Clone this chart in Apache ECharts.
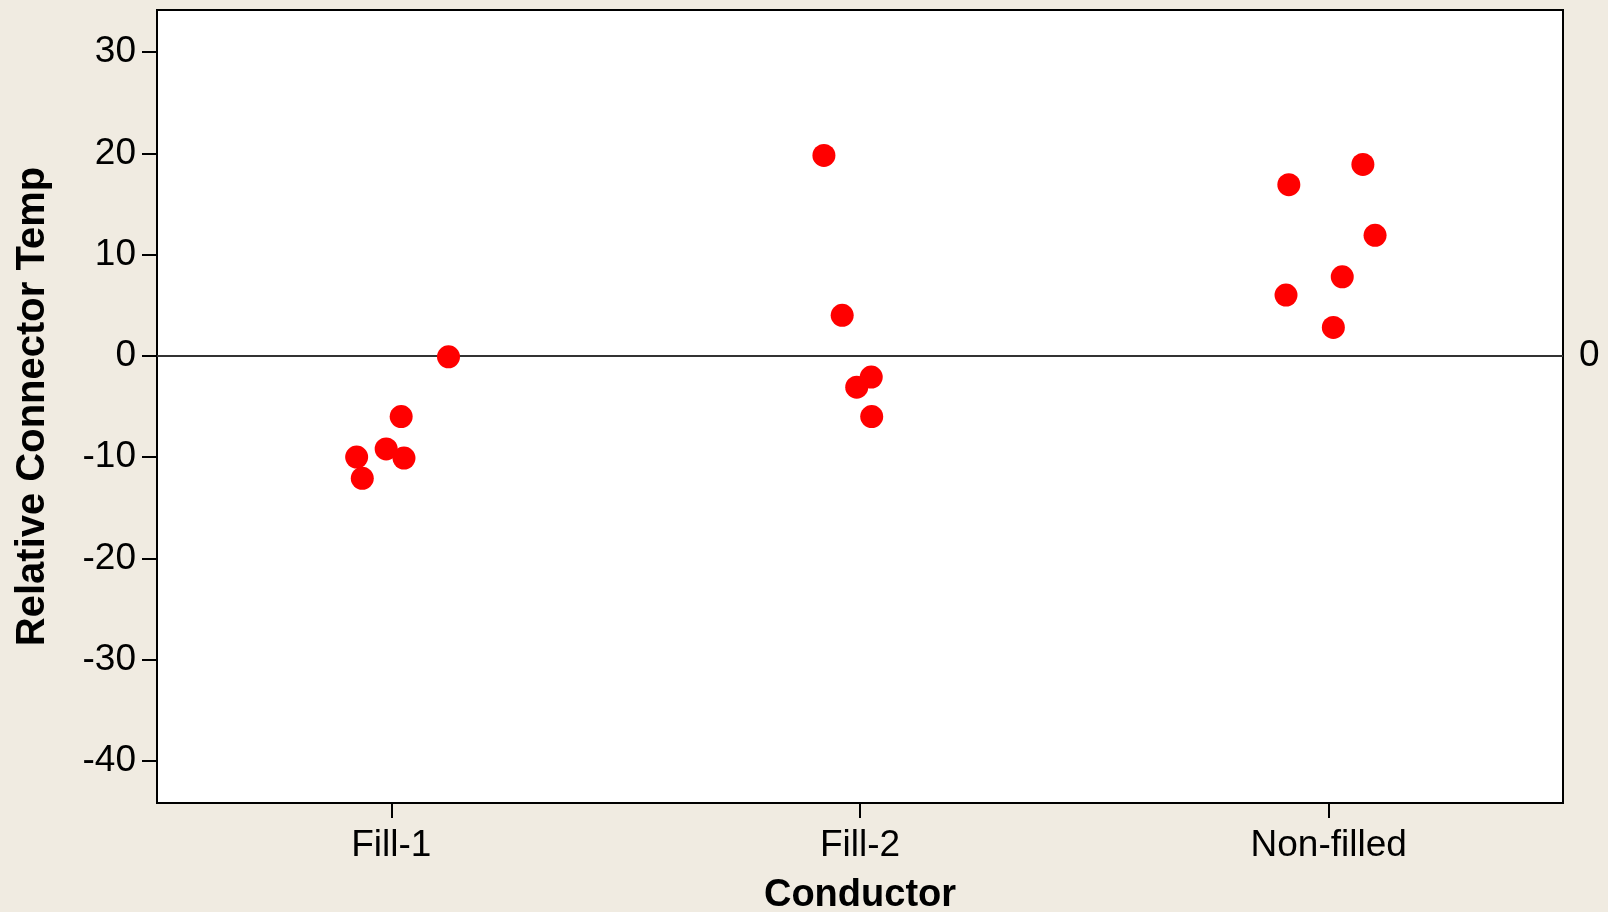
<!DOCTYPE html>
<html>
<head>
<meta charset="utf-8">
<script src="https://cdn.jsdelivr.net/npm/echarts@6/dist/echarts.min.js"></script>
<style>
html,body{margin:0;padding:0;background:#F0EBE1;}
#chart{width:1608px;height:912px;}
</style>
</head>
<body>
<div id="chart"></div>
<script>
// Categories and tick labels
const categories = ['Fill-1', 'Fill-2', 'Non-filled'];
const yTicks = [-40, -30, -20, -10, 0, 10, 20, 30];

// Jittered x positions (category index 1..3 plus jitter) and values
const fill1X = [1.122, 1.021, 0.989, 0.926, 1.027, 0.938];
const fill1Y = [-0.1, -6.0, -9.2, -10.0, -10.1, -12.1];
const fill2X = [1.923, 1.962, 2.024, 1.993, 2.025];
const fill2Y = [19.8, 4.0, -2.1, -3.1, -6.0];
const nonFilledX = [3.073, 2.915, 3.099, 3.029, 2.909, 3.010];
const nonFilledY = [18.9, 16.9, 11.9, 7.8, 6.0, 2.8];

const refValue = 0;

function pairs(xs, ys) { return xs.map((x, i) => [x, ys[i]]); }
const points = [].concat(pairs(fill1X, fill1Y), pairs(fill2X, fill2Y), pairs(nonFilledX, nonFilledY));

const FONT = 'Liberation Sans';
const chart = echarts.init(document.getElementById('chart'));
chart.setOption({
  backgroundColor: '#F0EBE1',
  animation: false,
  grid: {
    left: 157, right: 45, top: 10, bottom: 109,
    containLabel: false, outerBoundsMode: 'none',
    show: true, backgroundColor: '#ffffff', borderColor: '#000000', borderWidth: 2
  },
  xAxis: {
    type: 'value', min: 0.5, max: 3.5,
    name: 'Conductor', nameLocation: 'middle', nameGap: 74,
    nameTextStyle: { fontFamily: FONT, fontWeight: 'bold', fontSize: 38, color: '#000' },
    axisLine: { show: true, onZero: false, lineStyle: { color: '#000', width: 2 } },
    axisTick: { show: true, length: 15, lineStyle: { color: '#000', width: 2 }, customValues: [1, 2, 3] },
    axisLabel: {
      customValues: [1, 2, 3], margin: 24,
      fontFamily: FONT, fontSize: 37, color: '#000',
      formatter: v => categories[Math.round(v) - 1]
    },
    splitLine: { show: false }
  },
  yAxis: {
    type: 'value', min: -44.17, max: 34.16,
    name: 'Relative Connector Temp', nameLocation: 'middle', nameGap: 104,
    nameTextStyle: { fontFamily: FONT, fontWeight: 'bold', fontSize: 40, color: '#000' },
    axisLine: { show: true, onZero: false, lineStyle: { color: '#000', width: 2 } },
    axisTick: { show: true, length: 15, lineStyle: { color: '#000', width: 2 }, customValues: yTicks },
    axisLabel: { customValues: yTicks, margin: 21, fontFamily: FONT, fontSize: 37, color: '#000' },
    splitLine: { show: false }
  },
  series: [
    {
      type: 'line', data: [], z: 1, silent: true,
      markLine: {
        silent: true, symbol: 'none',
        lineStyle: { color: '#333333', width: 2, type: 'solid' },
        label: { show: true, position: 'end', distance: 16, fontFamily: FONT, fontSize: 37, color: '#000', formatter: String(refValue) },
        data: [{ yAxis: refValue }]
      }
    },
    {
      type: 'scatter', z: 5, data: points,
      symbol: 'circle', symbolSize: 23,
      itemStyle: { color: '#FF0000', opacity: 1 }
    }
  ]
});
</script>
</body>
</html>
